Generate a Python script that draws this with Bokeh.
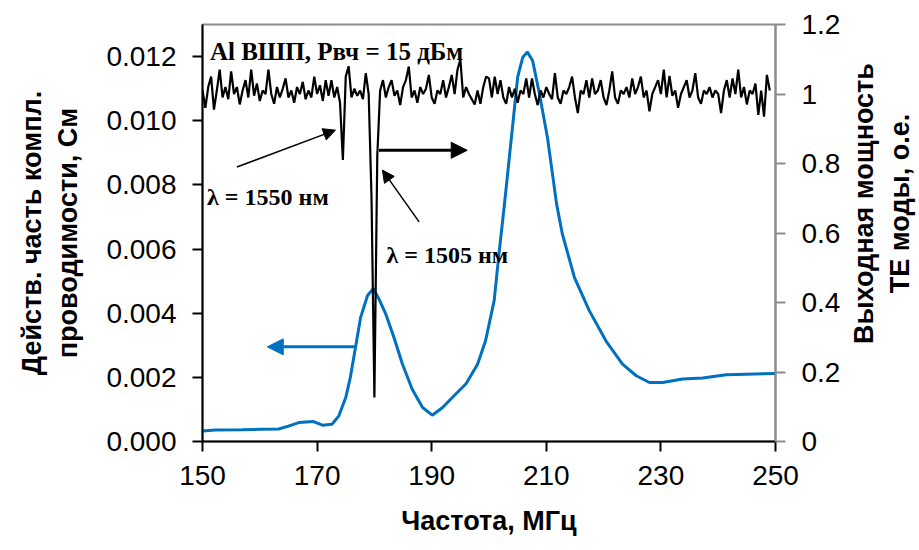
import math
import numpy as np
from bokeh.plotting import figure
from bokeh.layouts import row
from bokeh.models import (Range1d, LinearAxis, FixedTicker, Label, Arrow,
                          NormalHead, PrintfTickFormatter)
from bokeh.embed import file_html
from bokeh.resources import INLINE

# ---------------- data ----------------
x_ticks = [150, 170, 190, 210, 230, 250]
left_ticks = [0.000, 0.002, 0.004, 0.006, 0.008, 0.010, 0.012]
right_ticks = [0, 0.2, 0.4, 0.6, 0.8, 1.0, 1.2]
right_tick_labels = ["0", "0.2", "0.4", "0.6", "0.8", "1", "1.2"]

# conductance (left axis), blue
cond_mhz = [150, 152.2, 156.9, 160, 163.3, 165, 166.8, 169.4, 170.9, 172.6,
            173.8, 175, 175.8, 176.7, 177.6, 178.8, 179.8, 180.8, 182, 183.4,
            184.9, 186.6, 188.4, 190.1, 191.9, 194.2, 196.0, 198.0, 199.4, 200.9,
            201.8, 202.7, 204.1, 205.0, 205.9, 206.7, 207.6, 208.8, 210.2, 211.8,
            212.8, 214.9, 217.5, 220.4, 223.3, 225.7, 228, 230.3, 233.8, 237.3,
            241.4, 244.9, 250]
cond_s = [0.00033, 0.00036, 0.00037, 0.00038, 0.00039, 0.00048, 0.00059, 0.00062, 0.00051, 0.00054,
          0.00080, 0.00137, 0.00200, 0.00293, 0.00387, 0.00455, 0.00476, 0.00444, 0.00397, 0.00325,
          0.00241, 0.00163, 0.00106, 0.00082, 0.00106, 0.00148, 0.00180, 0.00241, 0.00314, 0.00439,
          0.00595, 0.00740, 0.00980, 0.01136, 0.01198, 0.01214, 0.01188, 0.01084, 0.00948, 0.00740,
          0.00647, 0.00512, 0.00408, 0.00314, 0.00241, 0.00205, 0.00184, 0.00184, 0.00195, 0.00198,
          0.00208, 0.00210, 0.00212]

# output TE power (right axis), black, sampled every 0.5 MHz from 150 MHz
power_start_mhz = 150.0
power_step_mhz = 0.5
power_rel = [
    1.01, 0.96, 1.02, 1.05, 0.955, 1.01, 1.07, 0.99, 1.02, 0.985,
    1.065, 1.00, 1.02, 0.97, 1.01, 1.04, 0.99, 1.07, 0.995, 1.03,
    0.98, 1.01, 1.00, 1.07, 1.00, 0.972, 1.02, 0.99, 1.015, 1.045,
    0.99, 1.01, 0.975, 1.02, 1.00, 1.035, 0.985, 1.01, 0.99, 1.05,
    1.00, 1.025, 0.98, 1.04, 0.995, 1.04, 0.99, 1.02, 0.975, 0.81,
    1.05, 1.08, 0.99, 1.015, 0.995, 1.01, 0.985, 1.06, 1.00, 0.70,
    0.127, 0.82, 1.01, 1.04, 0.99, 1.02, 1.04, 0.995, 1.01, 0.968,
    1.02, 1.04, 1.079, 0.99, 1.01, 0.975, 1.02, 1.00, 1.015, 1.055,
    0.99, 0.972, 1.01, 1.00, 1.04, 0.99, 1.02, 1.055, 1.00, 1.07,
    1.10, 0.99, 1.02, 1.00, 0.985, 0.97, 1.01, 0.972, 1.02, 1.05,
    1.045, 0.99, 1.05, 1.00, 1.04, 0.99, 0.972, 1.02, 0.99, 1.015,
    0.975, 1.01, 1.00, 1.045, 0.99, 1.045, 1.00, 0.968, 1.01, 0.99,
    1.02, 1.00, 0.985, 1.06, 0.99, 0.972, 1.01, 1.00, 1.02, 1.05,
    0.99, 0.945, 1.01, 1.00, 1.04, 0.99, 1.045, 1.00, 1.01, 1.04,
    0.99, 0.968, 1.01, 1.065, 0.99, 0.972, 1.01, 1.00, 1.02, 0.99,
    1.045, 1.00, 1.02, 1.05, 0.99, 1.01, 0.95, 1.00, 1.02, 1.04,
    1.00, 1.07, 0.99, 1.052, 0.995, 1.01, 0.96, 1.00, 1.02, 1.04,
    0.99, 1.01, 1.06, 0.99, 0.972, 1.01, 1.00, 1.02, 0.99, 1.01,
    1.00, 0.945, 1.01, 1.04, 0.99, 1.045, 1.00, 1.07, 0.99, 1.02,
    0.97, 1.01, 1.00, 1.03, 0.94, 1.01, 0.935, 1.055, 1.01,
]
power_mhz = power_start_mhz + power_step_mhz * np.arange(len(power_rel))

title_text = "Al ВШП, Pвч = 15 дБм"
note_1550 = "λ = 1550 нм"
note_1505 = "λ = 1505 нм"
x_label = "Частота, МГц"
left_label = "Действ. часть компл.\nпроводимости, См"
right_label = "Выходная мощность\nТЕ моды, о.е."

BLUE = "#0070C0"
GREY = "#8c8c8c"
SANS = "Liberation Sans"
SERIF = "Liberation Serif"

# ---------------- main figure ----------------
p = figure(frame_width=573, frame_height=417,
           x_range=Range1d(150, 250), y_range=Range1d(0, 0.013),
           output_backend="svg", toolbar_location=None,
           min_border_left=202, min_border_right=70,
           min_border_top=24, min_border_bottom=104)
p.extra_y_ranges = {"right": Range1d(0, 1.2)}
p.xgrid.visible = False
p.ygrid.visible = False
p.outline_line_color = GREY
p.outline_line_width = 2
p.background_fill_color = "white"
p.border_fill_color = "white"

def style_axis(ax, color):
    ax.axis_line_color = color
    ax.axis_line_width = 2
    ax.major_tick_line_color = color
    ax.major_tick_line_width = 2
    ax.major_tick_out = 10
    ax.major_tick_in = 0
    ax.minor_tick_line_color = None
    ax.major_label_text_font = SANS
    ax.major_label_text_font_size = "28px"
    ax.major_label_text_color = "black"
    ax.axis_label_text_font = SANS
    ax.axis_label_text_font_size = "27px"
    ax.axis_label_text_font_style = "bold"
    ax.axis_label_text_color = "black"

xax = p.below[0]
style_axis(xax, "black")
xax.ticker = FixedTicker(ticks=x_ticks)
xax.axis_label = x_label
xax.major_label_standoff = 14
xax.axis_label_standoff = 18

lax = p.left[0]
style_axis(lax, "black")
lax.ticker = FixedTicker(ticks=left_ticks)
lax.formatter = PrintfTickFormatter(format="%.3f")
lax.axis_label = left_label
lax.major_label_standoff = 16
lax.axis_label_standoff = 20

rax = LinearAxis(y_range_name="right", ticker=FixedTicker(ticks=right_ticks),
                 major_label_overrides={t: s for t, s in zip(right_ticks, right_tick_labels)})
style_axis(rax, GREY)
rax.major_label_standoff = 16
p.add_layout(rax, "right")

# ---------------- series ----------------
p.line(cond_mhz, cond_s, line_color=BLUE, line_width=3)
p.line(power_mhz, power_rel, line_color="black", line_width=2.2, y_range_name="right")

# ---------------- annotations ----------------
p.add_layout(Label(x=151.3, y=1.121, y_range_name="right", text=title_text,
                   text_font=SERIF, text_font_style="bold", text_font_size="25px",
                   text_color="black", text_baseline="alphabetic", text_align="left"))
p.add_layout(Label(x=150.8, y=0.704, y_range_name="right", text=note_1550,
                   text_font=SERIF, text_font_style="bold", text_font_size="24px",
                   text_color="black", text_baseline="alphabetic", text_align="left"))
p.add_layout(Label(x=182.1, y=0.536, y_range_name="right", text=note_1505,
                   text_font=SERIF, text_font_style="bold", text_font_size="24px",
                   text_color="black", text_baseline="alphabetic", text_align="left"))

p.add_layout(Arrow(x_start=156.0, y_start=0.790, x_end=173.2, y_end=0.896,
                   y_range_name="right", line_color="black", line_width=1.5,
                   end=NormalHead(size=12, fill_color="black", line_color="black")))
p.add_layout(Arrow(x_start=187.8, y_start=0.632, x_end=181.4, y_end=0.781,
                   y_range_name="right", line_color="black", line_width=1.5,
                   end=NormalHead(size=12, fill_color="black", line_color="black")))
p.add_layout(Arrow(x_start=180.8, y_start=0.838, x_end=196.2, y_end=0.838,
                   y_range_name="right", line_color="black", line_width=3,
                   end=NormalHead(size=16, fill_color="black", line_color="black")))
p.add_layout(Arrow(x_start=176.7, y_start=0.00295, x_end=161.3, y_end=0.00295,
                   line_color=BLUE, line_width=3,
                   end=NormalHead(size=16, fill_color=BLUE, line_color=BLUE)))

# ---------------- right-hand axis title panel ----------------
pr = figure(width=74, height=545, x_range=Range1d(0, 74), y_range=Range1d(0, 545),
            output_backend="svg", toolbar_location=None,
            min_border_left=0, min_border_right=0, min_border_top=0, min_border_bottom=0)
pr.xaxis.visible = False
pr.yaxis.visible = False
pr.xgrid.visible = False
pr.ygrid.visible = False
pr.outline_line_color = None
pr.background_fill_color = "white"
pr.border_fill_color = "white"
pr.add_layout(Label(x=36, y=311, text=right_label, angle=math.pi / 2,
                    text_font=SANS, text_font_style="bold", text_font_size="27px",
                    text_color="black", text_align="center", text_baseline="middle"))

layout = row(p, pr)
open("out.html", "w").write(file_html(layout, INLINE))
